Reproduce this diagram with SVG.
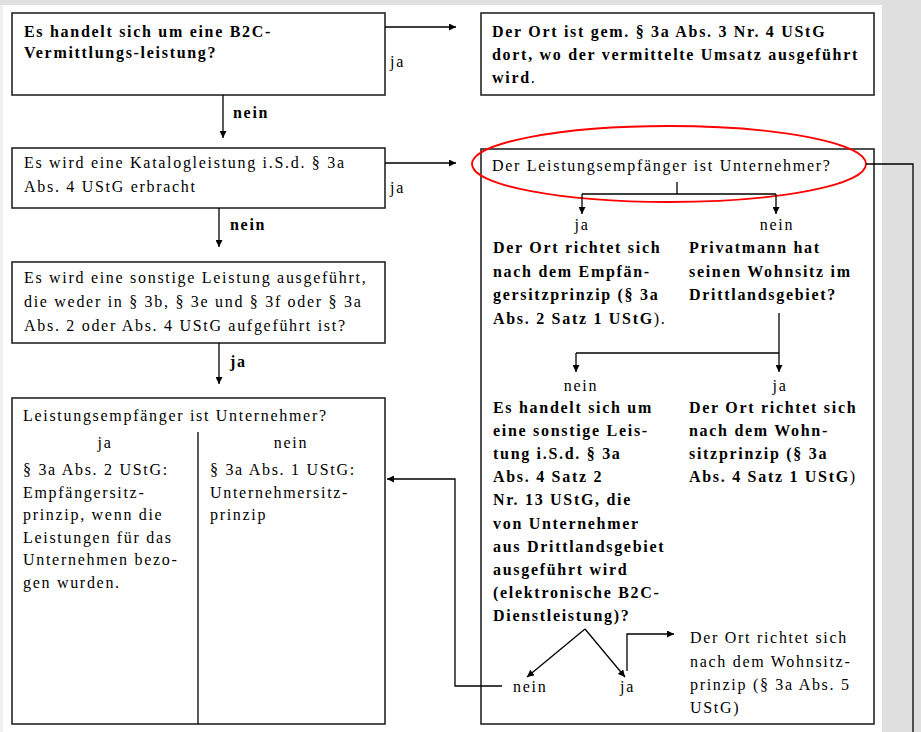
<svg xmlns="http://www.w3.org/2000/svg" width="921" height="732" viewBox="0 0 921 732">
<style>
  .box { fill: #ffffff; stroke: #262626; stroke-width: 1.6; }
  .t { font-family: "Liberation Serif", "Times New Roman", serif; font-size: 16px; letter-spacing: 1.7px; fill: #000; }
  .b { font-family: "Liberation Serif", "Times New Roman", serif; font-size: 16px; font-weight: bold; letter-spacing: 1.7px; fill: #000; }
  .n { font-weight: normal; }
  .c { text-anchor: middle; }
  .ln { fill: none; stroke: #000; stroke-width: 1.3; }
  .arr { fill: none; stroke: #000; stroke-width: 1.3; marker-end: url(#ah); }
</style>
<defs>
  <marker id="ah" viewBox="0 0 10 10" refX="10" refY="5" markerWidth="7" markerHeight="7" markerUnits="userSpaceOnUse" orient="auto">
    <path d="M0,0 L10,5 L0,10 Z" fill="#000"/>
  </marker>
</defs>

<!-- page background -->
<rect x="0" y="0" width="921" height="732" fill="#dfdfdf"/>
<rect x="0" y="5" width="3" height="727" fill="#efefef"/>
<rect x="3" y="5" width="879" height="727" fill="#ffffff"/>

<g id="node-b2c">
  <rect class="box" x="12" y="13" width="373" height="82"/>
  <text class="b" x="24" y="37">Es handelt sich um eine B2C-</text>
  <text class="b" x="24" y="58">Vermittlungs-leistung?</text>
</g>

<g id="node-ort-vermittlung">
  <rect class="box" x="481" y="13" width="393" height="82"/>
  <text class="b" x="492" y="37">Der Ort ist gem. § 3a Abs. 3 Nr. 4 UStG</text>
  <text class="b" x="492" y="60">dort, wo der vermittelte Umsatz ausgeführt</text>
  <text class="b" x="492" y="83">wird<tspan class="n">.</tspan></text>
</g>

<g id="node-katalog">
  <rect class="box" x="12" y="148" width="373" height="60"/>
  <text class="t" x="24" y="168">Es wird eine Katalogleistung i.S.d. § 3a</text>
  <text class="t" x="24" y="192">Abs. 4 UStG erbracht</text>
</g>

<g id="node-sonstige">
  <rect class="box" x="12" y="262" width="373" height="81"/>
  <text class="t" x="24" y="283">Es wird eine sonstige Leistung ausgeführt,</text>
  <text class="t" x="24" y="307">die weder in § 3b, § 3e und § 3f oder § 3a</text>
  <text class="t" x="24" y="331">Abs. 2 oder Abs. 4 UStG aufgeführt ist?</text>
</g>

<g id="node-empfaenger-links">
  <rect class="box" x="12" y="398" width="373" height="326"/>
  <line class="ln" x1="198" y1="432" x2="198" y2="724"/>
  <text class="t" x="23" y="421">Leistungsempfänger ist Unternehmer?</text>
  <text class="t c" x="105" y="448">ja</text>
  <text class="t c" x="291" y="448">nein</text>
  <text class="t" x="23" y="475">§ 3a Abs. 2 UStG:</text>
  <text class="t" x="23" y="498">Empfängersitz-</text>
  <text class="t" x="23" y="520">prinzip, wenn die</text>
  <text class="t" x="23" y="543">Leistungen für das</text>
  <text class="t" x="23" y="565">Unternehmen bezo-</text>
  <text class="t" x="23" y="588">gen wurden.</text>
  <text class="t" x="210" y="475">§ 3a Abs. 1 UStG:</text>
  <text class="t" x="210" y="498">Unternehmersitz-</text>
  <text class="t" x="210" y="520">prinzip</text>
</g>

<g id="node-katalog-detail">
  <rect class="box" x="481" y="149" width="393" height="575"/>
  <text class="t" x="492" y="171">Der Leistungsempfänger ist Unternehmer?</text>
  <text class="t c" x="582" y="230">ja</text>
  <text class="t c" x="777" y="230">nein</text>
  <text class="b" x="493" y="253">Der Ort richtet sich</text>
  <text class="b" x="493" y="277">nach dem Empfän-</text>
  <text class="b" x="493" y="300">gersitzprinzip (§ 3a</text>
  <text class="b" x="493" y="324">Abs. 2 Satz 1 UStG<tspan class="n">).</tspan></text>
  <text class="b" x="689" y="253">Privatmann hat</text>
  <text class="b" x="689" y="277">seinen Wohnsitz im</text>
  <text class="b" x="689" y="300">Drittlandsgebiet?</text>
  <text class="t c" x="581" y="391">nein</text>
  <text class="t c" x="780" y="391">ja</text>
  <text class="b" x="493" y="413">Es handelt sich um</text>
  <text class="b" x="493" y="436">eine sonstige Leis-</text>
  <text class="b" x="493" y="459">tung i.S.d. § 3a</text>
  <text class="b" x="493" y="482">Abs. 4 Satz 2</text>
  <text class="b" x="493" y="505">Nr. 13 UStG, die</text>
  <text class="b" x="493" y="529">von Unternehmer</text>
  <text class="b" x="493" y="552">aus Drittlandsgebiet</text>
  <text class="b" x="493" y="575">ausgeführt wird</text>
  <text class="b" x="493" y="598">(elektronische B2C-</text>
  <text class="b" x="493" y="621">Dienstleistung)?</text>
  <text class="b" x="689" y="413">Der Ort richtet sich</text>
  <text class="b" x="689" y="436">nach dem Wohn-</text>
  <text class="b" x="689" y="459">sitzprinzip (§ 3a</text>
  <text class="b" x="689" y="482">Abs. 4 Satz 1 UStG<tspan class="n">)</tspan></text>
  <text class="t" x="513" y="692">nein</text>
  <text class="t" x="620" y="692">ja</text>
  <text class="t" x="690" y="643">Der Ort richtet sich</text>
  <text class="t" x="690" y="667">nach dem Wohnsitz-</text>
  <text class="t" x="690" y="690">prinzip (§ 3a Abs. 5</text>
  <text class="t" x="690" y="713">UStG)</text>
  <ellipse cx="669" cy="164" rx="197" ry="38" fill="none" stroke="#ff0000" stroke-width="1.8"/>
</g>

<g id="connectors">
  <line class="arr" x1="385" y1="27" x2="456" y2="27"/>
  <line class="arr" x1="223" y1="95" x2="223" y2="138"/>
  <line class="arr" x1="385" y1="163" x2="456" y2="163"/>
  <line class="arr" x1="219" y1="208" x2="219" y2="247"/>
  <line class="arr" x1="219" y1="343" x2="219" y2="384"/>
  <polyline class="ln" points="677,182 677,194"/>
  <polyline class="ln" points="582,194 776,194"/>
  <line class="arr" x1="582" y1="194" x2="582" y2="214"/>
  <line class="arr" x1="776" y1="194" x2="776" y2="214"/>
  <polyline class="ln" points="779,313 779,353"/>
  <polyline class="ln" points="576,353 779,353"/>
  <line class="arr" x1="576" y1="353" x2="576" y2="372"/>
  <line class="arr" x1="779" y1="353" x2="779" y2="372"/>
  <line class="arr" x1="585" y1="629" x2="527" y2="677"/>
  <line class="arr" x1="585" y1="629" x2="625" y2="677"/>
  <polyline class="arr" points="627,671 627,634 674,634"/>
  <polyline class="arr" points="502,686 455,686 455,479 387,479"/>
  <polyline class="ln" points="866,164 913,164 913,732"/>
  <text class="t" x="390" y="67">ja</text>
  <text class="b" x="233" y="118">nein</text>
  <text class="t" x="390" y="193">ja</text>
  <text class="b" x="230" y="230">nein</text>
  <text class="b" x="230" y="367">ja</text>
</g>
</svg>
